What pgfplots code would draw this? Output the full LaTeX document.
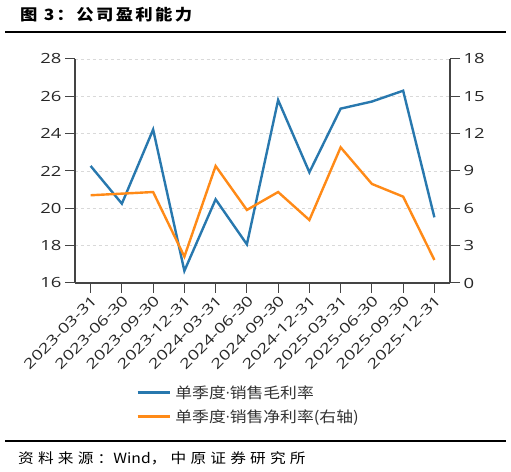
\documentclass[border=0pt]{standalone}
\usepackage{pgfplots}
\pgfplotsset{compat=1.18}
\usepackage{fontspec}
\setmainfont{Open Sans}[FakeStretch=1.15]
\newfontfamily\tickfont{Open Sans}[FakeStretch=1.32]
\newfontfamily\cjk{Noto Sans CJK SC}[FakeStretch=1.12]
\newfontfamily\dotfont{Open Sans}
\definecolor{cblue}{HTML}{2878AE}
\definecolor{corange}{HTML}{FF8A17}
\definecolor{axgray}{HTML}{444444}
\pgfplotstableread{
x gross
0 22.27
1 20.25
2 24.22
3 16.65
4 20.48
5 18.07
6 25.80
7 21.93
8 25.34
9 25.72
10 26.30
11 19.52
}\grosstable
\pgfplotstableread{
x net
0 7.05
1 7.18
2 7.31
3 2.12
4 9.40
5 5.87
6 7.31
7 5.06
8 10.90
9 7.96
10 6.94
11 1.85
}\nettable
\begin{document}
\begin{tikzpicture}[x=1bp,y=1bp]
\useasboundingbox (0,0) rectangle (511,472);
\pgfplotsset{
  common/.style={
    at={(75bp,189bp)}, anchor=south west, scale only axis,
    width=375bp, height=224bp,
    xmin=-0.5, xmax=11.5,
    axis line style={axgray, line width=1.1bp, -},
    tick style={axgray, line width=1bp},
    tick align=outside, major tick length=10bp,
    /pgf/number format/assume math mode=true,
    tick label style={font=\tickfont\fontsize{14bp}{16bp}\selectfont, text=black!85},
    clip=false,
  }
}
\begin{axis}[common,
  ymin=16, ymax=28, ytick={16,18,...,28},
  xtick={0,...,11},
  xticklabels={2023-03-31,2023-06-30,2023-09-30,2023-12-31,2024-03-31,2024-06-30,2024-09-30,2024-12-31,2025-03-31,2025-06-30,2025-09-30,2025-12-31},
  x tick label style={rotate=45, anchor=north east, inner sep=1bp},
  axis x line*=bottom, axis y line*=left,
  ymajorgrids, grid style={dashed, black!15, line width=0.8bp},
]
\addplot[cblue, line width=2.4bp] table[x=x, y=gross] {\grosstable};
\end{axis}
\begin{axis}[common,
  ymin=0, ymax=18, ytick={0,3,...,18},
  axis x line=none, axis y line*=right,
  legend style={at={(axis description cs:0.163,-0.447)}, anchor=north west,
    draw=none, fill=none, font=\cjk\fontsize{15bp}{17bp}\selectfont, text=black!80,
    row sep=6bp, inner sep=0pt, nodes={inner xsep=4.5bp}},
  legend cell align=left,
  legend image code/.code={\draw[#1, line width=2.6bp] (0bp,0bp) -- (32bp,0bp);},
]
\addlegendimage{cblue}
\addlegendentry{单季度{\dotfont\fontsize{15bp}{17bp}\selectfont ·}销售毛利率}
\addplot[corange, line width=2.4bp] table[x=x, y=net] {\nettable};
\addlegendentry{单季度{\dotfont\fontsize{15bp}{17bp}\selectfont ·}销售净利率(右轴)}
\end{axis}
\node[anchor=west, inner sep=0] at (20,457) {\cjk\bfseries\addfontfeatures{LetterSpace=15}\fontsize{15.5bp}{18bp}\selectfont 图 3：公司盈利能力};
\draw[line width=2.2bp] (5,440) -- (506,440);
\draw[line width=2.2bp] (5,31) -- (506,31);
\node[anchor=west, inner sep=0] at (18,14) {\cjk\fontsize{14bp}{16bp}\selectfont {\addfontfeatures{LetterSpace=30}资料来源：}Wind{\addfontfeatures{LetterSpace=30}，中原证券研究所}};
\end{tikzpicture}
\end{document}
